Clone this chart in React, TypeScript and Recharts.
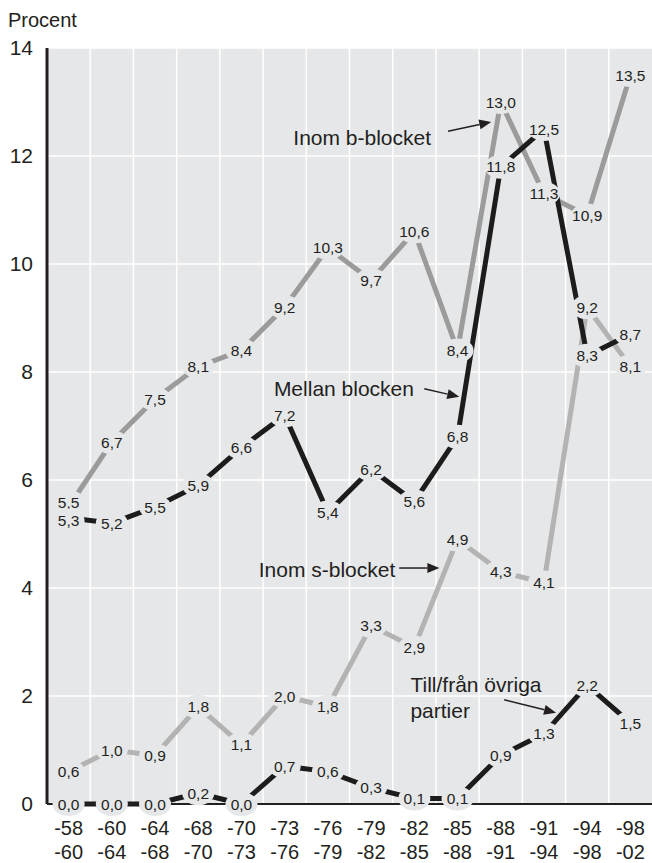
import React from 'react';
import { LineChart, Line, XAxis, YAxis, CartesianGrid, ReferenceDot, ReferenceLine } from 'recharts';

// periods as start/end year pairs
const periodStart = ['-58', '-60', '-64', '-68', '-70', '-73', '-76', '-79', '-82', '-85', '-88', '-91', '-94', '-98'];
const periodEnd = ['-60', '-64', '-68', '-70', '-73', '-76', '-79', '-82', '-85', '-88', '-91', '-94', '-98', '-02'];

const inomB = [5.5, 6.7, 7.5, 8.1, 8.4, 9.2, 10.3, 9.7, 10.6, 8.4, 13.0, 11.3, 10.9, 13.5];
const mellan = [5.3, 5.2, 5.5, 5.9, 6.6, 7.2, 5.4, 6.2, 5.6, 6.8, 11.8, 12.5, 8.3, 8.7];
const inomS = [0.6, 1.0, 0.9, 1.8, 1.1, 2.0, 1.8, 3.3, 2.9, 4.9, 4.3, 4.1, 9.2, 8.1];
const ovriga = [0.0, 0.0, 0.0, 0.2, 0.0, 0.7, 0.6, 0.3, 0.1, 0.1, 0.9, 1.3, 2.2, 1.5];

const yTicks = [0, 2, 4, 6, 8, 10, 12, 14];

const data = periodStart.map((p, i) => ({
    i,
    inomB: inomB[i],
    mellan: mellan[i],
    inomS: inomS[i],
    ovriga: ovriga[i],
}));

const BG = '#e6e7e9';
const INK = '#231f20';
const FONT = '"Liberation Sans", Arial, sans-serif';

// small vertical nudges (px) where two value labels would collide
const labelNudge: Record<string, Record<number, number>> = {
    inomB: { 0: -5 },
    mellan: { 0: 3 },
};

const fmt = (v: number) => v.toFixed(1).replace('.', ',');

const maskedLabel = (series: string) => (props: any) => {
    const { cx, cy, value, index } = props;
    if (cx == null || cy == null || value == null) return null;
    const ny = cy + (labelNudge[series]?.[index] ?? 0);
    return (
        <g key={`lbl-${series}-${index}`}>
            <ellipse cx={cx} cy={ny} rx={16} ry={12} fill={BG} />
            <text x={cx} y={ny + 5.5} textAnchor="middle" fontSize={15.5} fill={INK} fontFamily={FONT}>
                {fmt(value)}
            </text>
        </g>
    );
};

const PeriodTick = ({ x, y, payload }: any) => {
    const idx = payload.value;
    return (
        <text x={x} y={y + 31} textAnchor="middle" fontSize={20} fill={INK} fontFamily={FONT}>
            <tspan x={x}>{periodStart[idx]}</tspan>
            <tspan x={x} dy={24}>{periodEnd[idx]}</tspan>
        </text>
    );
};

const Arrow = (props: any) => {
    const { x1, y1, x2, y2 } = props;
    if (x1 == null) return null;
    const ang = Math.atan2(y2 - y1, x2 - x1);
    const len = 12, half = 5;
    const bx = x2 - len * Math.cos(ang), by = y2 - len * Math.sin(ang);
    const px = -Math.sin(ang) * half, py = Math.cos(ang) * half;
    return (
        <g>
            <line x1={x1} y1={y1} x2={bx} y2={by} stroke={INK} strokeWidth={1.5} />
            <polygon points={`${x2},${y2} ${bx + px},${by + py} ${bx - px},${by - py}`} fill={INK} />
        </g>
    );
};

const noteText = (lines: string[]) => (p: any) => (
    <text x={p.cx} y={p.cy + 7} fontSize={21} fill={INK} fontFamily={FONT}>
        {lines.map((l, k) => (
            <tspan key={k} x={p.cx} dy={k === 0 ? 0 : 26}>{l}</tspan>
        ))}
    </text>
);

export default function App() {
    const gridBounds = periodStart.slice(1).map((_, k) => k + 1);
    return (
        <div style={{ position: 'absolute', left: 0, top: 0, width: 652, height: 863, background: '#fff', fontFamily: FONT }}>
            <div style={{ position: 'absolute', left: 8, top: 9, fontSize: 20, color: INK }}>Procent</div>
            <LineChart width={652} height={863} data={data} margin={{ top: 48, right: 0, bottom: 0, left: 0 }}>
                <CartesianGrid
                    fill={BG}
                    stroke="#ffffff"
                    strokeWidth={1.5}
                    verticalCoordinatesGenerator={({ offset }: any) =>
                        gridBounds.map(b => offset.left + (offset.width * b) / periodStart.length)
                    }
                />
                <XAxis
                    dataKey="i"
                    type="number"
                    domain={[-0.5, 13.5]}
                    ticks={data.map(d => d.i)}
                    interval={0}
                    height={59}
                    tickLine={false}
                    tickSize={0}
                    tickMargin={0}
                    tick={<PeriodTick />}
                    axisLine={{ stroke: INK, strokeWidth: 2 }}
                />
                <YAxis
                    domain={[0, 14]}
                    ticks={yTicks}
                    width={47}
                    tickLine={false}
                    tickSize={0}
                    tickMargin={14}
                    tick={{ fill: INK, fontSize: 21, fontFamily: FONT }}
                    axisLine={{ stroke: INK, strokeWidth: 3 }}
                />

                <Line dataKey="inomB" stroke="#9b9b9b" strokeWidth={5} dot={false} activeDot={false} isAnimationActive={false} />
                <Line dataKey="inomS" stroke="#b3b3b3" strokeWidth={5} dot={false} activeDot={false} isAnimationActive={false} />
                <Line dataKey="mellan" stroke="#1c1c1c" strokeWidth={5} dot={false} activeDot={false} isAnimationActive={false} />
                <Line dataKey="ovriga" stroke="#1c1c1c" strokeWidth={5} dot={false} activeDot={false} isAnimationActive={false} />

                <Line dataKey="inomB" stroke="none" dot={maskedLabel('inomB')} activeDot={false} isAnimationActive={false} />
                <Line dataKey="inomS" stroke="none" dot={maskedLabel('inomS')} activeDot={false} isAnimationActive={false} />
                <Line dataKey="mellan" stroke="none" dot={maskedLabel('mellan')} activeDot={false} isAnimationActive={false} />
                <Line dataKey="ovriga" stroke="none" dot={maskedLabel('ovriga')} activeDot={false} isAnimationActive={false} />

                <ReferenceDot x={5.2} y={12.33} r={0} shape={noteText(['Inom b-blocket'])} />
                <ReferenceLine segment={[{ x: 8.78, y: 12.46 }, { x: 9.78, y: 12.63 }]} shape={Arrow} />

                <ReferenceDot x={4.75} y={7.69} r={0} shape={noteText(['Mellan blocken'])} />
                <ReferenceLine segment={[{ x: 8.23, y: 7.69 }, { x: 9.04, y: 7.54 }]} shape={Arrow} />

                <ReferenceDot x={4.4} y={4.33} r={0} shape={noteText(['Inom s-blocket'])} />
                <ReferenceLine segment={[{ x: 7.65, y: 4.37 }, { x: 8.58, y: 4.37 }]} shape={Arrow} />

                <ReferenceDot x={7.91} y={2.2} r={0} shape={noteText(['Till/från övriga', 'partier'])} />
                <ReferenceLine segment={[{ x: 10.08, y: 1.93 }, { x: 11.28, y: 1.69 }]} shape={Arrow} />
            </LineChart>
        </div>
    );
}
